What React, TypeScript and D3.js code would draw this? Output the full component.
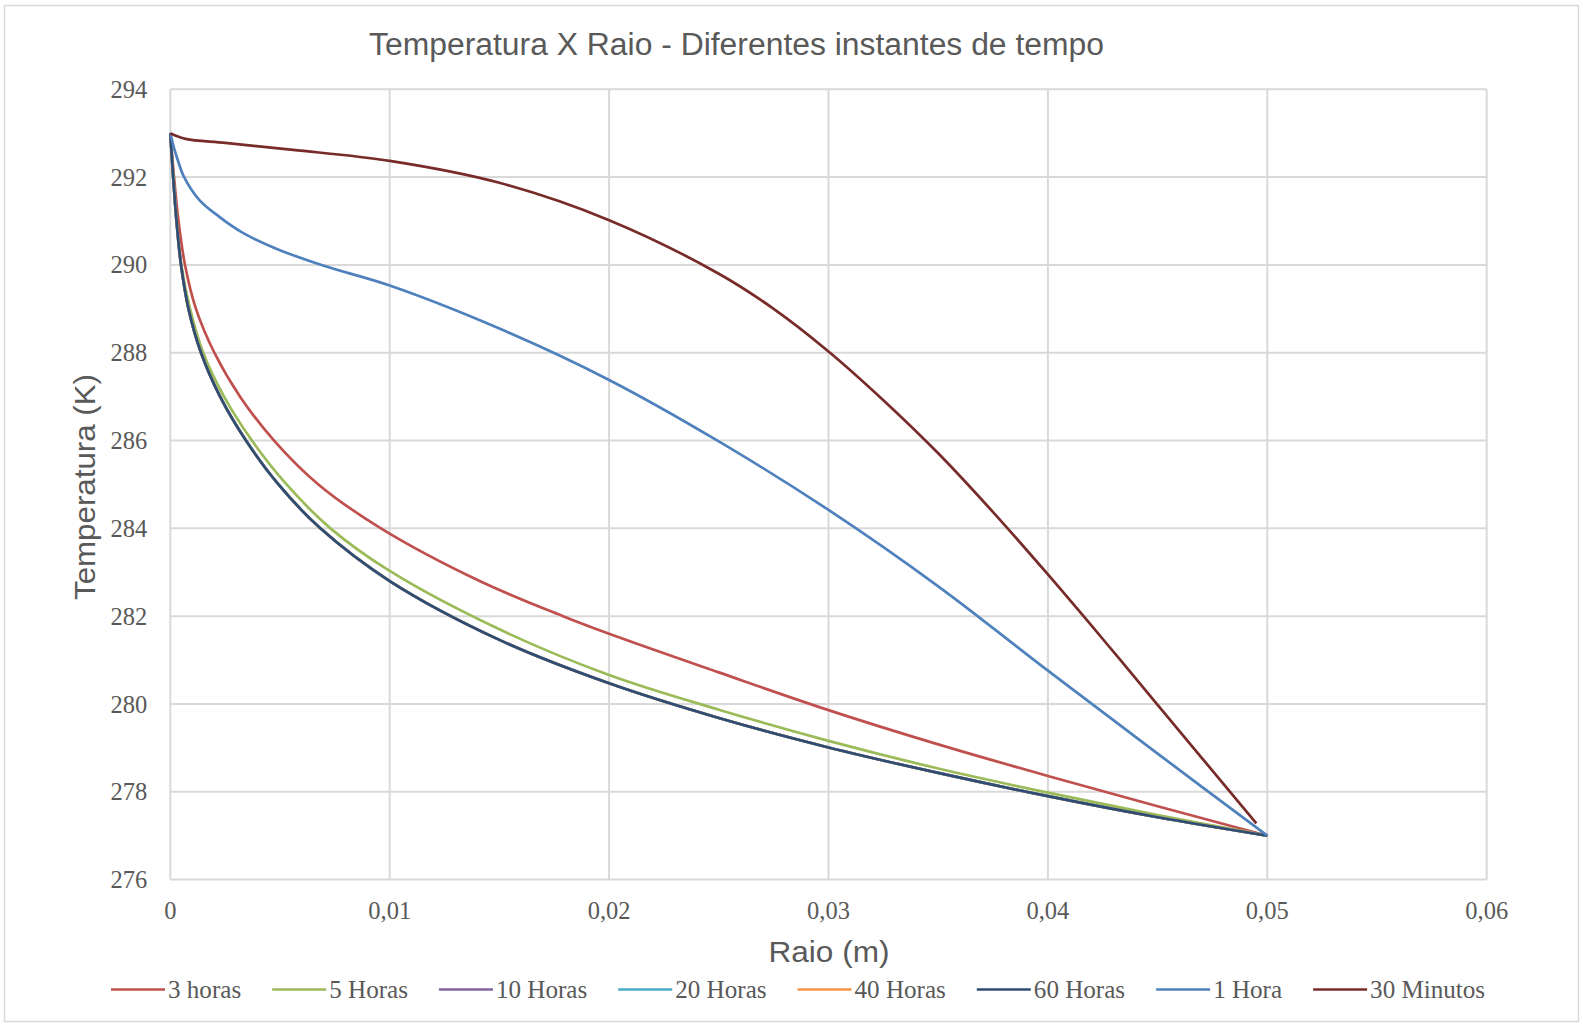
import { useEffect, useRef } from "react";
import * as d3 from "d3";

// radius (m) / temperature (K)
const r3h = [0, 0.000169, 0.000374, 0.00067, 0.00117, 0.00201, 0.00318, 0.00473, 0.00675, 0.0096, 0.0141, 0.0179, 0.02, 0.025, 0.03, 0.035, 0.04, 0.045, 0.05];
const t3h = [293, 292, 291, 290, 289, 288, 287, 286, 285, 284, 282.8, 282, 281.6, 280.72, 279.86, 279.08, 278.36, 277.67, 277];

const r5h = [0, 0.000137, 0.000292, 0.000502, 0.0009, 0.0015, 0.00245, 0.00372, 0.0053, 0.0073, 0.01, 0.015, 0.02, 0.025, 0.03, 0.035, 0.04, 0.045, 0.05];
const t5h = [293, 292, 291, 290, 289, 288, 287, 286, 285, 284, 283.03, 281.7, 280.66, 279.87, 279.16, 278.53, 277.98, 277.47, 277];

const r60h = [0, 0.000132, 0.000283, 0.000488, 0.00083, 0.0014, 0.00227, 0.00345, 0.00493, 0.00684, 0.01, 0.015, 0.02, 0.025, 0.03, 0.035, 0.04, 0.045, 0.05];
const t60h = [293, 292, 291, 290, 289, 288, 287, 286, 285, 284, 282.8, 281.46, 280.47, 279.68, 279.01, 278.43, 277.9, 277.42, 277];

// 10, 20 and 40 h sit under the 60 h curve in the picture
const r10h = r60h;
const t10h = t60h;
const r20h = r60h;
const t20h = t60h;
const r40h = r60h;
const t40h = t60h;

const r1h = [0, 0.0002, 0.0004, 0.0006, 0.00134, 0.00225, 0.00331, 0.00483, 0.007, 0.01, 0.015, 0.02, 0.025, 0.03, 0.035, 0.04, 0.045, 0.05];
const t1h = [293, 292.61, 292.3, 292.03, 291.47, 291.09, 290.73, 290.37, 289.98, 289.53, 288.55, 287.38, 285.98, 284.42, 282.68, 280.76, 278.87, 277];

const r30m = [0, 0.0007, 0.0025, 0.0056, 0.01, 0.015, 0.02, 0.025, 0.0275, 0.03, 0.0325, 0.035, 0.0375, 0.04, 0.0425, 0.045, 0.0495];
const t30m = [293, 292.87, 292.78, 292.62, 292.37, 291.87, 291.02, 289.8, 289.0, 288.03, 286.92, 285.71, 284.37, 282.95, 281.48, 279.98, 277.28];

const seriesNames = ["3 horas", "5 Horas", "10 Horas", "20 Horas", "40 Horas", "60 Horas", "1 Hora", "30 Minutos"];
const seriesR = [r3h, r5h, r10h, r20h, r40h, r60h, r1h, r30m];
const seriesT = [t3h, t5h, t10h, t20h, t40h, t60h, t1h, t30m];
const colors = ["#C0504D", "#9BBB59", "#8064A2", "#4BACC6", "#F79646", "#2C4D75", "#4F81BD", "#772C2A"];

const xTicks = [0, 0.01, 0.02, 0.03, 0.04, 0.05, 0.06];
const yTicks = [276, 278, 280, 282, 284, 286, 288, 290, 292, 294];

const W = 1583;
const H = 1025;
const sans = "'Liberation Sans', Arial, sans-serif";
const serif = "'Liberation Serif', 'DejaVu Serif', serif";

export default function App() {
  const ref = useRef<SVGSVGElement>(null);

  useEffect(() => {
    const svg = d3.select(ref.current);
    svg.selectAll("*").remove();

    const x = d3.scaleLinear().domain([0, 0.06]).range([170.3, 1486.7]);
    const y = d3.scaleLinear().domain([276, 294]).range([879.6, 89.3]);

    svg.append("rect").attr("width", W).attr("height", H).attr("fill", "#fff");
    svg
      .append("rect")
      .attr("x", 4.5)
      .attr("y", 5.5)
      .attr("width", 1574)
      .attr("height", 1016)
      .attr("fill", "none")
      .attr("stroke", "#d9d9d9")
      .attr("stroke-width", 1.5);

    // grid
    const grid = svg.append("g").attr("stroke", "#d9d9d9").attr("stroke-width", 2);
    grid
      .selectAll("line.h")
      .data(yTicks)
      .join("line")
      .attr("x1", x(0))
      .attr("x2", x(0.06))
      .attr("y1", (d) => y(d))
      .attr("y2", (d) => y(d));
    grid
      .selectAll("line.v")
      .data(xTicks)
      .join("line")
      .attr("x1", (d) => x(d))
      .attr("x2", (d) => x(d))
      .attr("y1", y(294))
      .attr("y2", y(276));

    // tick labels
    svg
      .append("g")
      .selectAll("text")
      .data(yTicks)
      .join("text")
      .attr("x", x(0) - 23)
      .attr("y", (d) => y(d))
      .attr("dy", "0.35em")
      .attr("text-anchor", "end")
      .attr("font-family", serif)
      .attr("font-size", 24.5)
      .attr("fill", "#595959")
      .text((d) => d);
    const fmt = (d: number) => (d === 0 ? "0" : d.toFixed(2).replace(".", ","));
    svg
      .append("g")
      .selectAll("text")
      .data(xTicks)
      .join("text")
      .attr("x", (d) => x(d))
      .attr("y", y(276) + 31)
      .attr("dy", "0.35em")
      .attr("text-anchor", "middle")
      .attr("font-family", serif)
      .attr("font-size", 24.5)
      .attr("fill", "#595959")
      .text(fmt);

    // titles
    svg
      .append("text")
      .attr("x", 736.5)
      .attr("y", 44)
      .attr("dy", "0.35em")
      .attr("text-anchor", "middle")
      .attr("font-family", sans)
      .attr("font-size", 31)
      .attr("fill", "#595959")
      .attr("textLength", 735)
      .attr("lengthAdjust", "spacingAndGlyphs")
      .text("Temperatura X Raio - Diferentes instantes de tempo");
    svg
      .append("text")
      .attr("transform", `translate(84,487) rotate(-90)`)
      .attr("dy", "0.35em")
      .attr("text-anchor", "middle")
      .attr("font-family", sans)
      .attr("font-size", 30)
      .attr("fill", "#595959")
      .attr("textLength", 226)
      .attr("lengthAdjust", "spacingAndGlyphs")
      .text("Temperatura (K)");
    svg
      .append("text")
      .attr("x", 829)
      .attr("y", 951)
      .attr("dy", "0.35em")
      .attr("text-anchor", "middle")
      .attr("font-family", sans)
      .attr("font-size", 30)
      .attr("fill", "#595959")
      .attr("textLength", 121)
      .attr("lengthAdjust", "spacingAndGlyphs")
      .text("Raio (m)");

    // series
    const line = d3
      .line<[number, number]>()
      .x((d) => x(d[0]))
      .y((d) => y(d[1]))
      .curve(d3.curveCatmullRom.alpha(0.5));
    seriesNames.forEach((name, i) => {
      const pts = seriesR[i].map((r, j) => [r, seriesT[i][j]] as [number, number]);
      svg
        .append("path")
        .datum(pts)
        .attr("fill", "none")
        .attr("stroke", colors[i])
        .attr("stroke-width", 2.7)
        .attr("stroke-linejoin", "round")
        .attr("d", line);
    });

    // legend
    const legend = svg.append("g");
    let cx = 111;
    const ly = 989.5;
    seriesNames.forEach((name, i) => {
      legend
        .append("line")
        .attr("x1", cx)
        .attr("x2", cx + 54)
        .attr("y1", ly)
        .attr("y2", ly)
        .attr("stroke", colors[i])
        .attr("stroke-width", 2.7);
      const t = legend
        .append("text")
        .attr("x", cx + 57)
        .attr("y", ly)
        .attr("dy", "0.35em")
        .attr("font-family", serif)
        .attr("font-size", 25.1)
        .attr("fill", "#595959")
        .text(name);
      const w = (t.node() as SVGTextElement).getComputedTextLength();
      cx = cx + 57 + w + 31;
    });
  }, []);

  return (
    <div style={{ position: "absolute", left: 0, top: 0 }}>
      <svg ref={ref} width={W} height={H} style={{ display: "block" }} />
    </div>
  );
}
